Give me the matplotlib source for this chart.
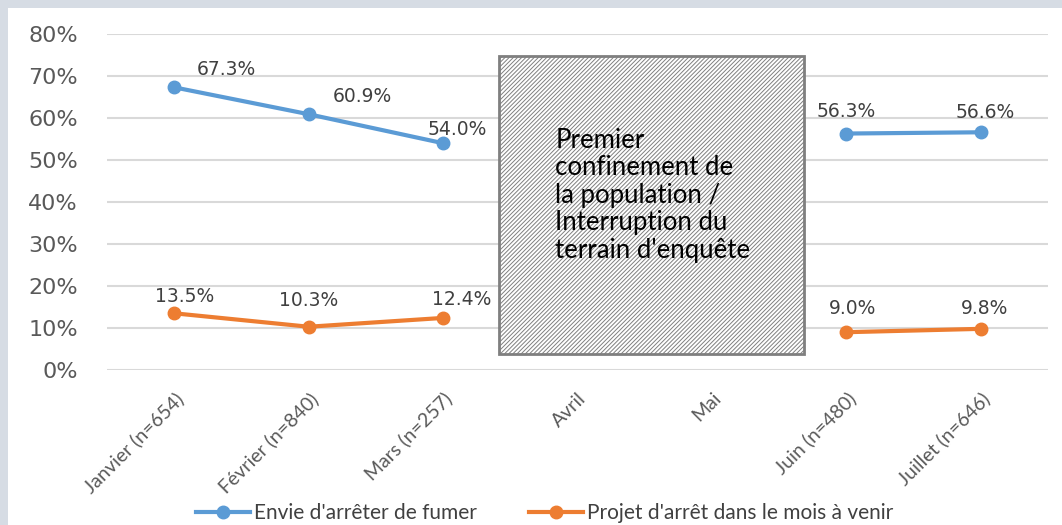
import numpy as np
import matplotlib
matplotlib.use("Agg")
import matplotlib.pyplot as plt
from matplotlib.patches import Rectangle
from matplotlib.ticker import PercentFormatter

# data (nan = no survey that month)
months = ["Janvier (n=654)", "Février (n=840)", "Mars (n=257)", "Avril", "Mai",
          "Juin (n=480)", "Juillet (n=646)"]
envie = [67.3, 60.9, 54.0, np.nan, np.nan, 56.3, 56.6]
projet = [13.5, 10.3, 12.4, np.nan, np.nan, 9.0, 9.8]
series_names = ["Envie d'arrêter de fumer", "Projet d'arrêt dans le mois à venir"]
box_text = "Premier\nconfinement de\nla population /\nInterruption du\nterrain d'enquête"

# label offsets in pixels (dx, dy) from each point to the label centre
envie_off = [(52, 18), (54, 18), (14, 14), None, None, (0, 22), (4, 20)]
projet_off = [(10, 17), (0, 26), (19, 18), None, None, (6, 24), (4, 20)]

BLUE = "#5b9bd5"
ORANGE = "#ed7d31"
GREY = "#595959"

plt.rcParams["hatch.linewidth"] = 0.7
plt.rcParams["hatch.color"] = "#8c8c8c"

fig = plt.figure(figsize=(10.62, 5.25), dpi=100)
fig.patch.set_facecolor("#d6dce4")
fig.add_artist(Rectangle((8 / 1062, 0), 1, 1 - 8 / 525, transform=fig.transFigure,
                         facecolor="white", edgecolor="none", zorder=0))

ax = fig.add_axes([107 / 1062, 1 - 370 / 525, (1048 - 107) / 1062, (370 - 34) / 525])
ax.set_facecolor("none")
x = np.arange(len(months))

ax.plot(x, envie, color=BLUE, lw=3, marker="o", ms=9, label=series_names[0], zorder=3)
ax.plot(x, projet, color=ORANGE, lw=3, marker="o", ms=9, label=series_names[1], zorder=3)

for vals, offs in [(envie, envie_off), (projet, projet_off)]:
    for i, (v, o) in enumerate(zip(vals, offs)):
        if o is None or np.isnan(v):
            continue
        ax.annotate(f"{v:.1f}%", (i, v), xytext=o, textcoords="offset pixels",
                    ha="center", va="center", fontsize=13.5, color="#404040", zorder=4)

# hatched "lockdown" box
ax.add_patch(Rectangle((2.418, 3.8), 4.688 - 2.418, 74.8 - 3.8, facecolor="white",
                       edgecolor="#7f7f7f", hatch="////////", lw=2, zorder=5))
ax.text(2.835, 57.6, box_text, ha="left", va="top", fontsize=18.5, family="Lato",
        color="black", linespacing=1.12, zorder=6)

ax.set_xlim(-0.5, len(months) - 0.5)
ax.set_ylim(0, 80)
ax.set_yticks(np.arange(0, 81, 10))
ax.yaxis.set_major_formatter(PercentFormatter(decimals=0))
ax.grid(axis="y", color="#d9d9d9", lw=1.5)
ax.set_axisbelow(True)
for s in ax.spines.values():
    s.set_visible(False)
ax.tick_params(length=0)
ax.tick_params(axis="y", labelsize=16, labelcolor=GREY, pad=21)
ax.set_xticks(x)
ax.set_xticklabels(months, rotation=45, ha="right", rotation_mode="anchor",
                   fontsize=14, family="Lato", color=GREY)
ax.tick_params(axis="x", pad=14)

fig.legend(loc="center", bbox_to_anchor=(0.513, 0.023), ncol=2, frameon=False,
           prop={"family": "Lato", "size": 15}, labelcolor="#404040",
           handlelength=2.6, columnspacing=2.5, handletextpad=0.2)

fig.savefig("out.png", dpi=100, facecolor=fig.get_facecolor())
